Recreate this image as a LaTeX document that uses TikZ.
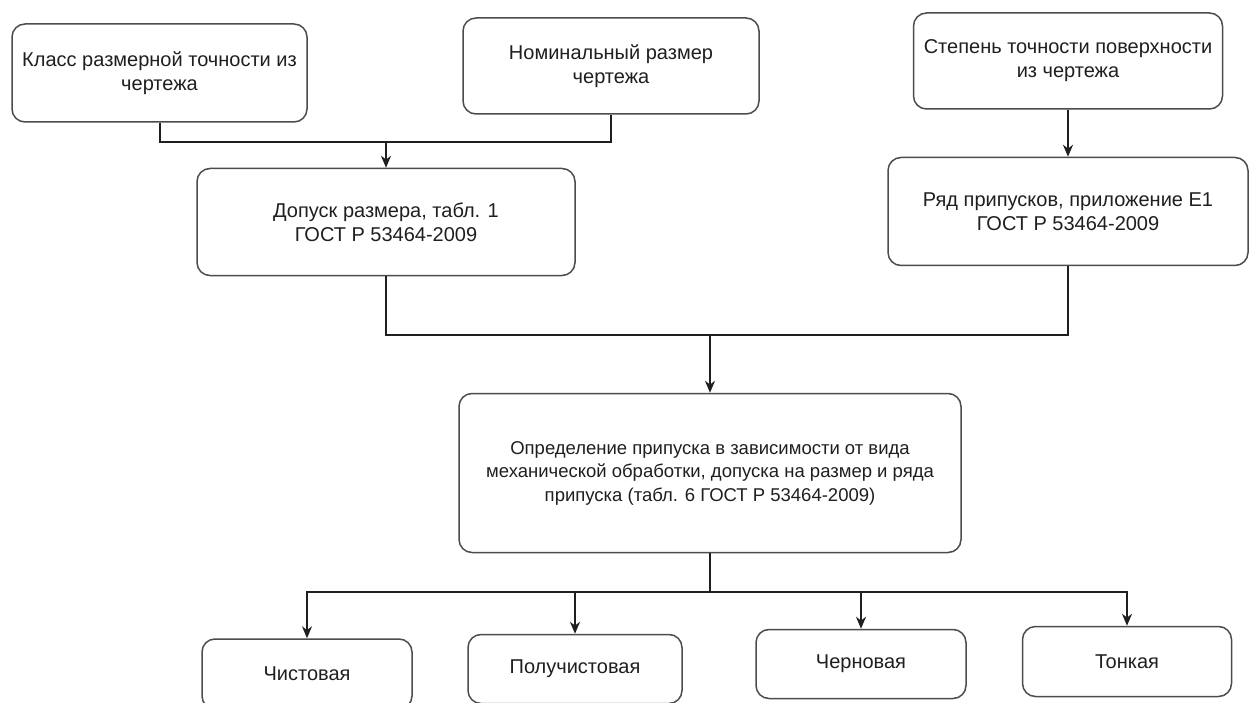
\documentclass[tikz,border=0pt]{standalone}
\usepackage{fontspec}
\setmainfont{Liberation Sans}
\usetikzlibrary{arrows.meta}
\begin{document}
\begin{tikzpicture}[x=1pt,y=-1pt,
  box/.style={draw=black!70, line width=1.5pt, rounded corners=13pt, align=center,
    font=\fontsize{20}{24}\selectfont, text=black!88, inner sep=0pt, fill=white},
  link/.style={draw=black!88, line width=2pt},
  arr/.style={link, -{Stealth[length=12pt,width=10pt]}}]
\useasboundingbox (0,0) rectangle (1252,703);
\fill[white] (0,0) rectangle (1252,703);
% top row
\node[box, minimum width=295pt, minimum height=98pt] (b1) at (159.5,73) {Класс размерной точности из\\чертежа};
\node[box, minimum width=296pt, minimum height=96pt] (b2) at (611,66) {Номинальный размер\\чертежа};
\node[box, minimum width=309pt, minimum height=96pt] (b3) at (1068,61) {Степень точности поверхности\\из чертежа};
% second row
\node[box, minimum width=378pt, minimum height=107pt] (b4) at (386,222) {Допуск размера, табл. 1\\ГОСТ Р 53464-2009};
\node[box, minimum width=360pt, minimum height=108pt] (b5) at (1068,211.5) {Ряд припусков, приложение Е1\\ГОСТ Р 53464-2009};
% center
\node[box, font=\fontsize{18.5}{23.5}\selectfont, minimum width=502pt, minimum height=159pt] (b6) at (710,473) {Определение припуска в зависимости от вида\\механической обработки, допуска на размер и ряда\\припуска (табл. 6 ГОСТ Р 53464-2009)};
% bottom row
\node[box, minimum width=210pt, minimum height=70pt] (c1) at (307,674) {Чистовая};
\node[box, minimum width=214pt, minimum height=69pt] (c2) at (575,669) {Получистовая};
\node[box, minimum width=210pt, minimum height=69pt] (c3) at (861,664) {Черновая};
\node[box, minimum width=209pt, minimum height=70pt] (c4) at (1127,661.5) {Тонкая};
% connectors
\coordinate (j1) at (386,142);
\draw[link] (b1.south) |- (j1) -| (b2.south);
\draw[arr] (j1) -- (b4.north);
\draw[arr] (b3.south) -- (b5.north);
\coordinate (j2) at (710,335);
\draw[link] (b4.south) |- (j2) -| (b5.south);
\draw[arr] (j2) -- (b6.north);
\coordinate (j3) at (710,592);
\draw[link] (b6.south) -- (j3);
\draw[arr] (j3) -| (c1.north);
\draw[arr] (j3) -| (c2.north);
\draw[arr] (j3) -| (c3.north);
\draw[arr] (j3) -| (c4.north);
\end{tikzpicture}
\end{document}
